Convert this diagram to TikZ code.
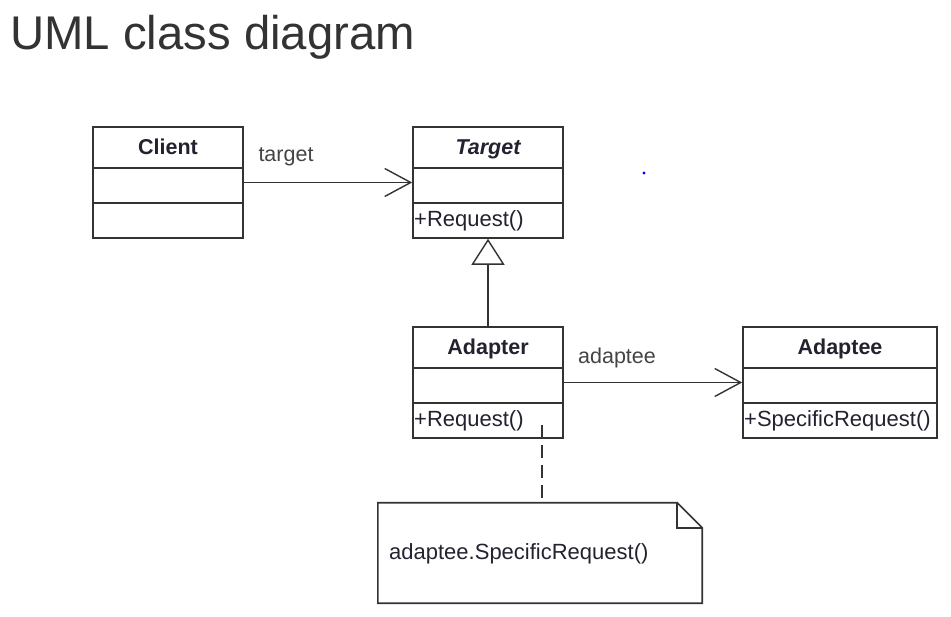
\documentclass[tikz,border=0pt]{standalone}
\usepackage{fontspec}
\setmainfont{Liberation Sans}
\usetikzlibrary{arrows.meta}
\definecolor{ln}{HTML}{333333}
\definecolor{tx}{HTML}{222230}
\definecolor{lb}{HTML}{444444}
\begin{document}
\begin{tikzpicture}[x=1pt,y=-1pt,
  cls/.style={draw=ln,line width=1.6pt,minimum height=111pt,inner sep=0pt,fill=white},
  cname/.style={font=\fontsize{21.5}{24}\selectfont\bfseries,text=tx,inner sep=0pt,anchor=base},
  member/.style={font=\fontsize{22}{24}\selectfont,text=tx,inner sep=0pt,anchor=base west},
  lbl/.style={font=\fontsize{21.5}{24}\selectfont,text=lb,inner sep=0pt,anchor=base},
  conn/.style={draw=ln,line width=1.6pt},
  openarrow/.style={-{Straight Barb[length=26pt,width=28pt,line width=1.4pt]}}
]
\useasboundingbox (0,0) rectangle (951,617);
\node[anchor=base west,inner sep=0pt,text=ln,font=\fontsize{47.3}{50}\selectfont] (title) at (10,49.5) {UML class diagram};

% Client
\node[cls,minimum width=150pt] (client) at (168,182.5) {};
\draw[conn] (93,168) -- (243,168) (93,203) -- (243,203);
\node[cname] (clientname) at (168,154.5) {Client};

% Target
\node[cls,minimum width=150pt] (target) at (488,182.5) {};
\draw[conn] (413,168) -- (563,168) (413,203) -- (563,203);
\node[cname,font=\fontsize{21.5}{24}\selectfont\bfseries\itshape] (targetname) at (488,154.5) {Target};
\node[member] (targetop) at (414,227) {+Request()};

% Adapter
\node[cls,minimum width=150pt] (adapter) at (488,382.5) {};
\draw[conn] (413,368) -- (563,368) (413,403) -- (563,403);
\node[cname] (adaptername) at (488,354.5) {Adapter};
\node[member] (adapterop) at (414,427) {+Request()};

% Adaptee
\node[cls,minimum width=194pt] (adaptee) at (840,382.5) {};
\draw[conn] (743,368) -- (937,368) (743,403) -- (937,403);
\node[cname] (adapteename) at (840,354.5) {Adaptee};
\node[member] (adapteeop) at (744,427) {+SpecificRequest()};

% associations
\draw[conn,openarrow] (client.east) -- (target.west);
\node[lbl] (targetlbl) at (286,162) {target};
\draw[conn,openarrow] (adapter.east) -- (adaptee.west);
\node[lbl] (adapteelbl) at (617,364) {adaptee};

% generalization
\draw[conn,-{Triangle[open,length=26pt,width=33pt,line width=1.4pt,fill=white]}] (adapter.north) -- (target.south);

% note
\node[minimum width=324pt,minimum height=100pt,inner sep=0pt] (note) at (540,553) {};
\draw[conn,line join=miter] (note.north west) -- ([xshift=-25pt]note.north east) -- ([yshift=-25pt]note.north east) -- (note.south east) -- (note.south west) -- cycle;
\draw[conn,line join=miter] ([xshift=-25pt]note.north east) -- ([xshift=-25pt,yshift=-25pt]note.north east) -- ([yshift=-25pt]note.north east);
\node[member] (notetext) at (389,559.5) {adaptee.SpecificRequest()};
\coordinate (dstart) at (542,425);
\draw[conn,dash pattern=on 13pt off 7pt] (dstart) -- (dstart |- note.north);

% stray dot
\fill[blue] (644,173) circle (1.6pt);
\end{tikzpicture}
\end{document}
